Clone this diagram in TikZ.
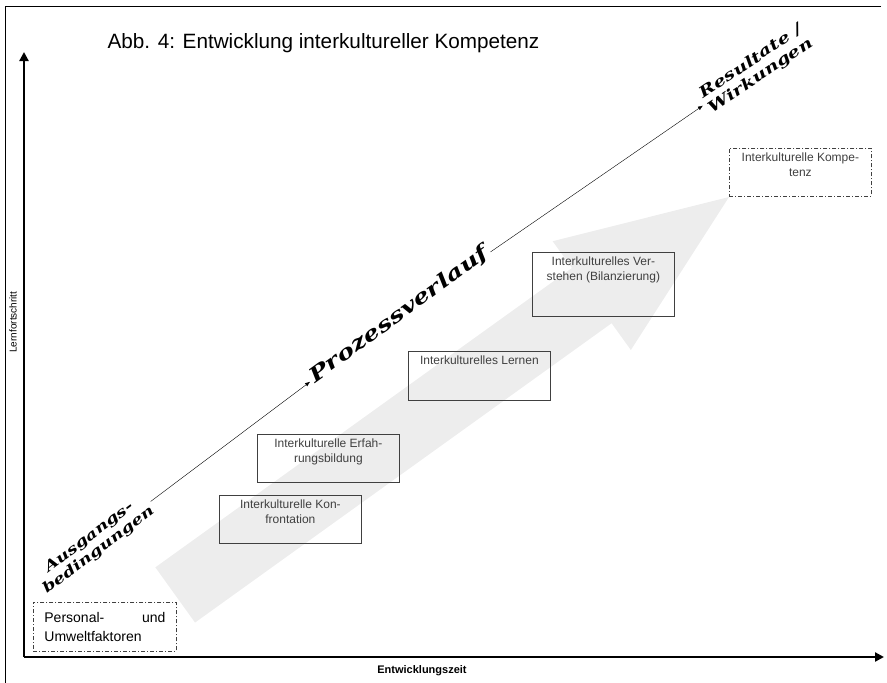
\documentclass[tikz,border=0pt]{standalone}
\usepackage{fontspec}
\setmainfont{Liberation Sans}
\newfontfamily\zierfont[FakeStretch=1.3,LetterSpace=1]{DejaVu Serif}
\usetikzlibrary{arrows.meta}

\newcommand\kastentext[2]{\parbox[t][#1][t]{134pt}{\centering #2}}

\tikzset{
	achse/.style={line width=2.2pt,-{Triangle[length=9pt,width=9pt]}},
	verlauf/.style={thin,-{Latex[length=5pt,width=4pt]}},
	stufe/.style={draw=black!75,line width=0.8pt,anchor=north west,inner sep=4pt,text=black!75,font=\fontsize{12}{15}\selectfont},
	rand/.style={draw=black!75,line width=0.8pt,dash pattern=on 4pt off 2pt on 1pt off 2pt,anchor=north west},
	zier/.style={align=center,inner sep=3pt},
}

\begin{document}
\begin{tikzpicture}[x=1pt,y=-1pt]
				\useasboundingbox (0,0) rectangle (887,683);
				\draw [line width=0.8pt] (881,6) -- (5,6) -- (5,683);

				\begin{scope}[shift={(729,197)},rotate=35.7]
					\fill [black!7] (0,0) -- (-169,67) -- (-169,34) -- (-682,34) -- (-682,-34) -- (-169,-34) -- (-169,-67) -- cycle;
				\end{scope}

				\coordinate (ursprung) at (24,657);
				\coordinate (yende) at (24,52);
				\coordinate (xende) at (884,657);
				\draw [achse] (ursprung) -- (yende);
				\draw [achse] (ursprung) -- (xende);
				\node [rotate=90,font=\fontsize{10}{12}\selectfont] (lern) at (13,322) {Lernfortschritt};
				\node [font=\bfseries\fontsize{11}{13}\selectfont] (zeit) at (422,671) {Entwicklungszeit};

				\node [anchor=base west,font=\fontsize{20.7}{24}\selectfont] (titel) at (104,48) {Abb. 4: Entwicklung interkultureller Kompetenz};

				\node [zier,rotate=37,font=\zierfont\bfseries\itshape\fontsize{14}{16}\selectfont] (ausgang) at (94,544) {Ausgangs-\\bedingungen};
				\node [zier,rotate=36,font=\zierfont\bfseries\itshape\fontsize{20}{22}\selectfont] (prozess) at (399,315) {Prozessverlauf};
				\node [zier,rotate=34,font=\zierfont\bfseries\itshape\fontsize{15}{17}\selectfont] (resultat) at (756,69) {Resultate /\\Wirkungen};
				\draw [verlauf] (ausgang) -- (prozess);
				\draw [verlauf] (prozess) -- (resultat);

				\node [stufe] (konfr) at (219,495) {\kastentext{40pt}{Interkulturelle Kon-\\frontation}};
				\node [stufe] (erfahr) at (257,434) {\kastentext{40pt}{Interkulturelle Erfah-\\rungsbildung}};
				\node [stufe] (lernen) at (408,351) {\kastentext{41pt}{Interkulturelles Lernen}};
				\node [stufe] (verst) at (532,252) {\kastentext{56pt}{Interkulturelles Ver-\\stehen (Bilanzierung)}};
				\node [rand,inner sep=4pt,text=black!75,font=\fontsize{12}{15}\selectfont] (kompet) at (729,148) {\kastentext{40pt}{Interkulturelle Kompe-\\tenz}};
				\node [rand,inner xsep=11pt,inner ysep=0pt,minimum height=49pt,font=\fontsize{14}{19}\selectfont] (faktor) at (33,602) {\parbox{121pt}{Personal-\hfill und\\Umweltfaktoren}};
			\end{tikzpicture}
\end{document}
